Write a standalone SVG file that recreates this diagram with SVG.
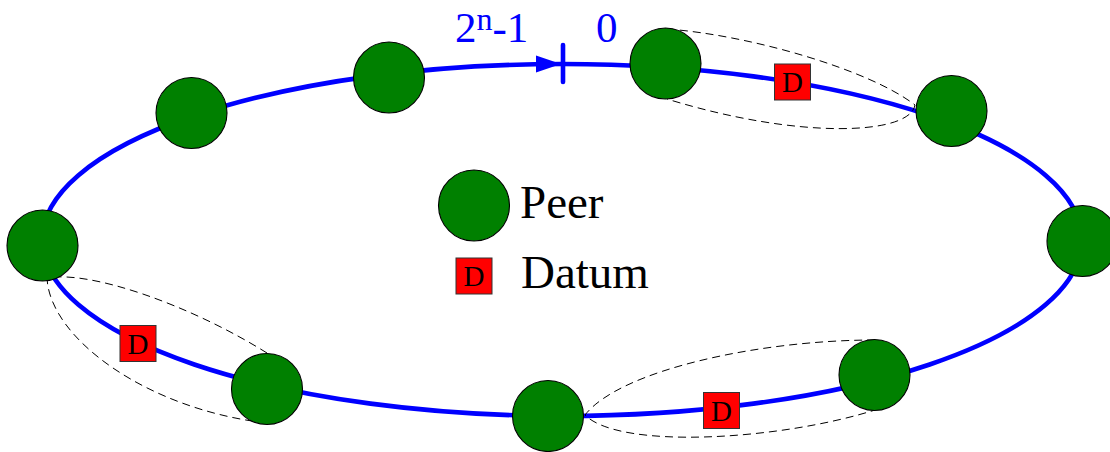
<svg xmlns="http://www.w3.org/2000/svg" width="1110" height="452" viewBox="0 0 1110 452">
<style>
.ring{fill:none;stroke:#0000ff;stroke-width:4.6}
.tick{stroke:#0000ff;stroke-width:4.6;stroke-linecap:round}
.loop{fill:none;stroke:#000;stroke-width:1;stroke-dasharray:8,5}
.peer{fill:#008000;stroke:#000;stroke-width:1.1}
.datum{fill:#ff0000;stroke:#333;stroke-width:1}
.dl{font-family:"Liberation Serif",serif;font-size:29px;fill:#000;text-anchor:middle}
.blue{font-family:"Liberation Serif",serif;font-size:43px;fill:#0000ff}
.leg{font-family:"Liberation Serif",serif;font-size:47px;fill:#000}
</style>
<rect width="1110" height="452" fill="#fff"/>
<g id="connectors">
  <ellipse class="ring" cx="562" cy="240" rx="520" ry="176"/>
  <polygon points="536,55.5 561,64 536,72.5" fill="#0000ff"/>
  <line class="tick" x1="563" y1="45" x2="563" y2="82"/>
  <path class="loop" d="M667,29 C750,35 870,70 915,105 C910,135 800,140 667,99"/>
  <path class="loop" d="M267,353 C190,305 90,270 47,278 C50,340 150,410 267,423"/>
  <path class="loop" d="M875,340 C760,340 620,370 585,415 C620,450 780,440 875,410"/>
</g>
<g id="labels">
  <text class="blue" x="455" y="42">2<tspan font-size="32" dy="-12">n</tspan><tspan dy="12">-1</tspan></text>
  <text class="blue" x="596" y="42">0</text>
</g>
<g id="datum-top"><rect class="datum" x="774.5" y="64" width="36" height="36"/><text class="dl" x="792.5" y="92">D</text></g>
<g id="datum-left"><rect class="datum" x="120" y="325.5" width="36" height="36"/><text class="dl" x="138" y="353.5">D</text></g>
<g id="datum-bottom"><rect class="datum" x="703.5" y="392.5" width="36" height="36"/><text class="dl" x="721.5" y="420.5">D</text></g>
<g id="peer1"><circle class="peer" cx="389" cy="77.5" r="35.5"/></g>
<g id="peer2"><circle class="peer" cx="191.5" cy="113" r="35.5"/></g>
<g id="peer3"><circle class="peer" cx="42.5" cy="245.5" r="35.5"/></g>
<g id="peer4"><circle class="peer" cx="267" cy="389" r="35.5"/></g>
<g id="peer5"><circle class="peer" cx="548" cy="416" r="35.5"/></g>
<g id="peer6"><circle class="peer" cx="874.5" cy="375" r="35.5"/></g>
<g id="peer7"><circle class="peer" cx="1082.5" cy="241" r="35.5"/></g>
<g id="peer8"><circle class="peer" cx="951.5" cy="111" r="35.5"/></g>
<g id="peer9"><circle class="peer" cx="665.5" cy="63.5" r="35.5"/></g>
<g id="legend-peer"><circle class="peer" cx="474" cy="205.5" r="35.5"/><text class="leg" x="520" y="218">Peer</text></g>
<g id="legend-datum"><rect class="datum" x="456" y="258" width="36" height="36"/><text class="dl" x="474" y="286">D</text><text class="leg" x="521" y="288">Datum</text></g>
</svg>
